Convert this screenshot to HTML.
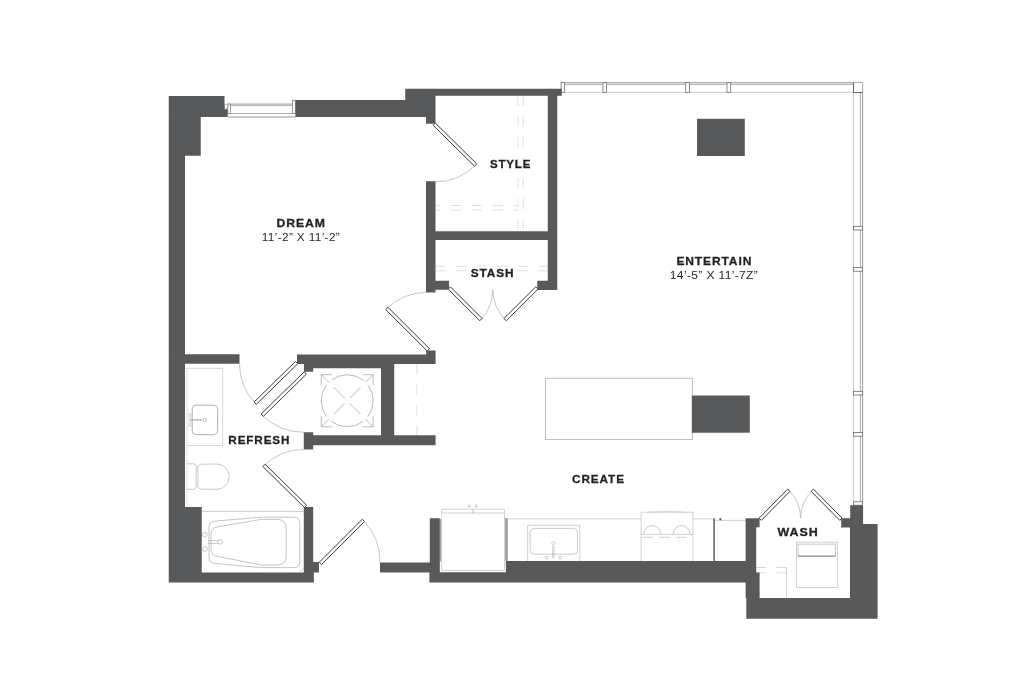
<!DOCTYPE html>
<html><head><meta charset="utf-8"><title>Floor plan</title>
<style>html,body{margin:0;padding:0;background:#fff}svg{display:block}</style></head>
<body><svg width="1024" height="681" viewBox="0 0 1024 681">
<defs><filter id="nf" x="0" y="0" width="1024" height="681" filterUnits="userSpaceOnUse"><feOffset dx="0" dy="0"/></filter></defs>
<rect width="1024" height="681" fill="#fff"/>
<line x1="518.00" y1="95.80" x2="518.00" y2="231.20" stroke="#dcdcdc" stroke-width="0.9" stroke-dasharray="10.3 10.3"/>
<line x1="523.20" y1="95.80" x2="523.20" y2="231.20" stroke="#dcdcdc" stroke-width="0.9" stroke-dasharray="10.3 10.3"/>
<line x1="429.50" y1="205.50" x2="518.00" y2="205.50" stroke="#dcdcdc" stroke-width="0.9" stroke-dasharray="10.5 10.5"/>
<line x1="429.50" y1="210.00" x2="518.00" y2="210.00" stroke="#dcdcdc" stroke-width="0.9" stroke-dasharray="10.5 10.5"/>
<line x1="435.50" y1="266.25" x2="547.75" y2="266.25" stroke="#dcdcdc" stroke-width="0.9" stroke-dasharray="10.3 10.3"/>
<line x1="435.50" y1="270.75" x2="547.75" y2="270.75" stroke="#dcdcdc" stroke-width="0.9" stroke-dasharray="10.3 10.3"/>
<line x1="416.80" y1="364.00" x2="416.80" y2="436.00" stroke="#dcdcdc" stroke-width="0.9" stroke-dasharray="10.3 10.3"/>
<line x1="227.70" y1="104.10" x2="295.30" y2="104.10" stroke="#7e7e7e" stroke-width="0.8" />
<line x1="227.70" y1="105.60" x2="295.30" y2="105.60" stroke="#a2a2a2" stroke-width="0.8" />
<line x1="227.70" y1="113.50" x2="295.30" y2="113.50" stroke="#9c9c9c" stroke-width="0.8" />
<line x1="227.70" y1="117.00" x2="295.30" y2="117.00" stroke="#8a8a8a" stroke-width="0.9" />
<rect x="227.90" y="104.10" width="2.60" height="9.40" fill="#fff" stroke="#707070" stroke-width="0.7" rx="0"/>
<rect x="292.50" y="100.20" width="2.80" height="13.30" fill="#fff" stroke="#707070" stroke-width="0.7" rx="0"/>
<rect x="224.70" y="104.20" width="2.80" height="4.80" fill="#fff" stroke="#8a8a8a" stroke-width="0.6" rx="0"/>
<line x1="561.00" y1="82.70" x2="862.60" y2="82.70" stroke="#7e7e7e" stroke-width="0.8" />
<line x1="561.00" y1="84.40" x2="853.50" y2="84.40" stroke="#969696" stroke-width="0.8" />
<line x1="561.00" y1="92.40" x2="853.50" y2="92.40" stroke="#bcbcbc" stroke-width="0.8" />
<rect x="561.10" y="82.70" width="3.50" height="9.70" fill="#fff" stroke="#666" stroke-width="0.75" rx="0"/>
<rect x="603.00" y="82.70" width="3.50" height="9.70" fill="#fff" stroke="#666" stroke-width="0.75" rx="0"/>
<rect x="685.80" y="82.70" width="3.60" height="9.70" fill="#fff" stroke="#666" stroke-width="0.75" rx="0"/>
<rect x="727.00" y="82.70" width="3.70" height="9.70" fill="#fff" stroke="#666" stroke-width="0.75" rx="0"/>
<line x1="853.50" y1="92.50" x2="853.50" y2="504.50" stroke="#bcbcbc" stroke-width="0.8" />
<line x1="860.40" y1="92.50" x2="860.40" y2="504.50" stroke="#969696" stroke-width="0.8" />
<line x1="862.60" y1="82.70" x2="862.60" y2="504.50" stroke="#7e7e7e" stroke-width="0.8" />
<rect x="853.50" y="226.30" width="9.10" height="3.70" fill="#fff" stroke="#5f5f5f" stroke-width="0.75" rx="0"/>
<rect x="853.50" y="267.50" width="9.10" height="3.70" fill="#fff" stroke="#5f5f5f" stroke-width="0.75" rx="0"/>
<rect x="853.50" y="391.30" width="9.10" height="3.70" fill="#fff" stroke="#5f5f5f" stroke-width="0.75" rx="0"/>
<rect x="853.50" y="432.50" width="9.10" height="3.70" fill="#fff" stroke="#5f5f5f" stroke-width="0.75" rx="0"/>
<rect x="853.50" y="501.80" width="9.10" height="3.40" fill="#fff" stroke="#5f5f5f" stroke-width="0.75" rx="0"/>
<rect x="853.50" y="82.70" width="9.10" height="9.80" fill="#fff" stroke="#9a9a9a" stroke-width="0.6" rx="0"/>
<path d="M853.5,82.7 V92.5 H862.6" stroke="#4a4a4c" stroke-width="0.8" fill="none" />
<line x1="187.00" y1="368.40" x2="187.00" y2="507.00" stroke="#c8c8c8" stroke-width="0.6" />
<path d="M185.5,368.4 H222.7 V445.5 H187" stroke="#bdbdbd" stroke-width="0.6" fill="none" />
<rect x="192.20" y="405.20" width="25.40" height="29.50" fill="none" stroke="#8c8c8c" stroke-width="0.7" rx="4"/>
<line x1="190.50" y1="419.90" x2="201.80" y2="419.90" stroke="#9a9a9a" stroke-width="1.0" />
<circle cx="204.90" cy="419.90" r="1.60" fill="none" stroke="#8c8c8c" stroke-width="0.6"/>
<rect x="189.20" y="413.50" width="1.60" height="13.00" fill="none" stroke="#b0b0b0" stroke-width="0.5" rx="0.8"/>
<path d="M187,463.8 H193.5 Q196.2,463.8 196.2,466.5 V486.7 Q196.2,489.4 193.5,489.4 H187" stroke="#a6a6a6" stroke-width="0.6" fill="none" />
<path d="M201.5,464.2 Q197.4,464.6 197.6,469 L198.3,476.8 L197.6,484.6 Q197.4,489 201.5,489.2 L216.5,489.4 A12.8,12.7 0 0 0 216.5,464 Z" stroke="#a6a6a6" stroke-width="0.6" fill="none" />
<line x1="201.80" y1="511.40" x2="303.80" y2="511.40" stroke="#b8b8b8" stroke-width="0.7" />
<path d="M214.5,521.2 L261,517.2 H293.5 Q299.8,517.2 299.8,523.5 V561.3 Q299.8,567.6 293.5,567.6 H261 L214.5,563.4 Q209,562.6 209,557 V527.5 Q209,522 214.5,521.2 Z" stroke="#a4a4a4" stroke-width="0.65" fill="none" />
<path d="M217,527 L261,519.4 H277 Q286.2,519.4 286.2,528.5 V556 Q286.2,565 277,565 H261 L217,556.3 Q211,555 211,549 V534 Q211,528.2 217,527 Z" stroke="#a4a4a4" stroke-width="0.65" fill="none" />
<circle cx="204.80" cy="534.80" r="2.40" fill="none" stroke="#a6a6a6" stroke-width="0.6"/>
<circle cx="204.80" cy="549.00" r="2.40" fill="none" stroke="#a6a6a6" stroke-width="0.6"/>
<path d="M207.6,540.6 H219.5 M207.6,543.4 H219.5" stroke="#a6a6a6" stroke-width="0.6" fill="none" />
<circle cx="220.30" cy="542.00" r="2.30" fill="#fff" stroke="#a6a6a6" stroke-width="0.6"/>
<path d="M299.2,572.5 L303.8,568.2" stroke="#b0b0b0" stroke-width="0.6" fill="none" />
<path d="M321.3,385 V374.7 H331.7 M362.7,374.7 H373.1 V385 M373.1,416.4 V426.8 H362.7 M331.7,426.8 H321.3 V416.4" stroke="#9c9c9c" stroke-width="0.65" fill="none" />
<circle cx="347.2" cy="400.75" r="26" fill="none" stroke="#9c9c9c" stroke-width="0.7" stroke-dasharray="34 6.84" stroke-dashoffset="17.4"/>
<path d="M321.3,374.7 L329,382.4 M334,387.4 L344.5,397.9 M350,403.6 L360.5,414.1 M365.5,419.1 L373.1,426.8 M373.1,374.7 L365.5,382.3 M360.5,387.4 L350,397.9 M344.5,403.6 L334,414.1 M329,419.1 L321.3,426.8" stroke="#9c9c9c" stroke-width="0.7" fill="none" />
<rect x="545.40" y="378.20" width="147.00" height="61.40" fill="#fff" stroke="#b0b0b0" stroke-width="0.8" rx="0"/>
<rect x="439.70" y="519.00" width="1.50" height="42.50" fill="#a0a0a0" />
<rect x="505.00" y="518.10" width="2.80" height="42.90" fill="#a3a3a3" />
<rect x="441.80" y="509.10" width="62.70" height="61.30" fill="#fff" stroke="#b4b4b4" stroke-width="0.6" rx="0"/>
<line x1="441.80" y1="513.00" x2="504.50" y2="513.00" stroke="#b4b4b4" stroke-width="0.6" />
<line x1="473.10" y1="509.10" x2="473.10" y2="513.00" stroke="#999" stroke-width="0.6" />
<circle cx="469.30" cy="506.00" r="1.10" fill="none" stroke="#999" stroke-width="0.5"/>
<circle cx="476.30" cy="506.00" r="1.10" fill="none" stroke="#999" stroke-width="0.5"/>
<line x1="507.60" y1="518.90" x2="641.10" y2="518.90" stroke="#c0c0c0" stroke-width="0.7" />
<line x1="693.00" y1="518.90" x2="713.20" y2="518.90" stroke="#c0c0c0" stroke-width="0.7" />
<path d="M527.7,561 V525.3 H579.8 V561" stroke="#b0b0b0" stroke-width="0.6" fill="none" />
<rect x="530.10" y="528.40" width="47.40" height="25.80" fill="none" stroke="#a8a8a8" stroke-width="0.6" rx="4"/>
<path d="M553.4,541.3 L555.2,543.3 L553.4,545.3 L551.6,543.3 Z" stroke="#999" stroke-width="0.5" fill="none" />
<path d="M552.7,546 V558.4 M554.1,546 V558.4" stroke="#999" stroke-width="0.5" fill="none" />
<circle cx="546.50" cy="557.70" r="1.50" fill="none" stroke="#999" stroke-width="0.5"/>
<circle cx="560.10" cy="557.70" r="1.50" fill="none" stroke="#999" stroke-width="0.5"/>
<path d="M641.1,561 V512.2 H693 V561" stroke="#b0b0b0" stroke-width="0.6" fill="none" />
<line x1="641.10" y1="534.40" x2="693.00" y2="534.40" stroke="#b0b0b0" stroke-width="0.6" />
<line x1="642.00" y1="537.30" x2="692.00" y2="537.30" stroke="#b0b0b0" stroke-width="0.6" stroke-dasharray="11 6"/>
<path d="M643.9,534.4 A8.5,8.8 0 0 1 660.9,534.4 M673,534.4 A8.5,8.8 0 0 1 690,534.4" stroke="#a6a6a6" stroke-width="0.6" fill="none" />
<path d="M648,512.2 Q667,510.5 686,512.2" stroke="#bbb" stroke-width="0.5" fill="none" />
<rect x="713.20" y="518.20" width="1.80" height="42.80" fill="#77787a" />
<line x1="715.00" y1="520.40" x2="745.50" y2="520.40" stroke="#b4b4b4" stroke-width="0.6" />
<circle cx="720.40" cy="519.20" r="1.00" fill="#555" stroke="#555" stroke-width="0.3"/>
<rect x="796.30" y="542.10" width="41.20" height="45.40" fill="#fff" stroke="#b4b4b4" stroke-width="0.6" rx="0"/>
<rect x="798.00" y="544.10" width="37.40" height="12.00" fill="none" stroke="#a0a0a0" stroke-width="0.6" rx="0"/>
<line x1="798.00" y1="556.10" x2="835.40" y2="556.10" stroke="#6a6a6a" stroke-width="0.8" />
<path d="M756.2,567.5 H765.6 M776.5,567.5 H786.5 V598" stroke="#c4c4c4" stroke-width="0.7" fill="none" />
<path d="M756.2,572.8 H765.6 M776.5,572.8 H786.5" stroke="#d0d0d0" stroke-width="0.7" fill="none" />
<path d="M475.60,165.00 A57.93,57.93 0 0 1 435.50,182.00" stroke="#9a9a9a" stroke-width="0.55" fill="none" />
<polygon points="433.18,125.34 474.48,166.14 476.72,163.86 435.42,123.06" fill="#fff" stroke="#3a3a3c" stroke-width="1.0"/>
<path d="M386.80,308.40 A58.03,58.03 0 0 1 426.00,292.40" stroke="#9a9a9a" stroke-width="0.55" fill="none" />
<polygon points="429.43,348.67 387.93,307.27 385.67,309.53 427.17,350.93" fill="#fff" stroke="#3a3a3c" stroke-width="1.0"/>
<path d="M480.90,319.60 A44.11,44.11 0 0 0 492.80,289.80" stroke="#9a9a9a" stroke-width="0.55" fill="none" />
<polygon points="448.17,289.13 479.77,320.73 482.03,318.47 450.43,286.87" fill="#fff" stroke="#3a3a3c" stroke-width="1.0"/>
<path d="M505.10,319.60 A44.48,44.48 0 0 1 492.80,289.80" stroke="#9a9a9a" stroke-width="0.55" fill="none" />
<polygon points="535.77,286.87 503.97,318.47 506.23,320.73 538.03,289.13" fill="#fff" stroke="#3a3a3c" stroke-width="1.0"/>
<path d="M255.20,403.20 A57.55,57.55 0 0 1 239.50,363.80" stroke="#9a9a9a" stroke-width="0.55" fill="none" />
<polygon points="295.48,361.46 254.08,402.06 256.32,404.34 297.72,363.74" fill="#fff" stroke="#3a3a3c" stroke-width="1.0"/>
<path d="M262.20,415.20 A59.82,59.82 0 0 0 304.00,432.30" stroke="#9a9a9a" stroke-width="0.55" fill="none" />
<polygon points="304.18,371.86 261.08,414.06 263.32,416.34 306.42,374.14" fill="#fff" stroke="#3a3a3c" stroke-width="1.0"/>
<path d="M264.00,465.40 A57.67,57.67 0 0 1 303.80,449.50" stroke="#9a9a9a" stroke-width="0.55" fill="none" />
<polygon points="306.72,505.26 265.12,464.26 262.88,466.54 304.48,507.54" fill="#fff" stroke="#3a3a3c" stroke-width="1.0"/>
<path d="M363.40,520.40 A60.21,60.21 0 0 1 380.00,562.50" stroke="#9a9a9a" stroke-width="0.55" fill="none" />
<polygon points="321.53,564.53 364.53,521.53 362.27,519.27 319.27,562.27" fill="#fff" stroke="#3a3a3c" stroke-width="1.0"/>
<path d="M788.80,490.20 A40.49,40.49 0 0 1 800.60,518.00" stroke="#9a9a9a" stroke-width="0.55" fill="none" />
<polygon points="761.44,520.32 789.94,491.32 787.66,489.08 759.16,518.08" fill="#fff" stroke="#3a3a3c" stroke-width="1.0"/>
<path d="M812.30,490.20 A40.52,40.52 0 0 0 800.60,518.00" stroke="#9a9a9a" stroke-width="0.55" fill="none" />
<polygon points="842.04,518.08 813.44,489.08 811.16,491.32 839.76,520.32" fill="#fff" stroke="#3a3a3c" stroke-width="1.0"/>
<path fill="#58595b" d="M168.75,96.00H185.00V582.50H168.75ZM168.75,96.00H224.50V117.00H168.75ZM224.50,109.25H227.70V117.00H224.50ZM168.75,96.00H200.75V155.75H168.75ZM168.75,507.00H201.75V582.50H168.75ZM168.75,572.50H313.90V582.50H168.75ZM303.80,507.00H313.20V572.50H303.80ZM313.00,562.00H319.00V572.50H313.00ZM295.40,100.00H426.00V117.00H295.40ZM405.20,88.75H561.80V95.80H405.20ZM405.20,88.75H435.50V117.00H405.20ZM426.00,117.00H435.50V123.75H426.00ZM547.75,88.75H557.25V290.00H547.75ZM426.00,181.25H435.50V292.50H426.00ZM426.00,231.25H557.25V240.00H426.00ZM435.50,280.70H449.00V289.80H435.50ZM537.25,280.70H547.75V290.00H537.25ZM185.00,354.30H239.50V363.75H185.00ZM297.00,354.50H435.60V364.00H297.00ZM426.20,350.40H435.60V364.00H426.20ZM304.00,354.50H394.20V368.20H304.00ZM304.00,364.00H313.20V371.80H304.00ZM381.00,354.50H394.20V445.20H381.00ZM303.80,435.30H435.60V445.20H303.80ZM303.80,432.20H313.20V449.50H303.80ZM380.00,562.40H430.00V572.40H380.00ZM429.80,518.20H439.80V582.50H429.80ZM429.40,572.30H506.50V582.50H429.40ZM505.90,561.00H746.00V582.50H505.90ZM745.60,518.20H759.60V527.30H745.60ZM745.60,518.20H756.20V598.00H745.60ZM745.60,572.50H759.60V598.00H745.60ZM746.30,598.00H877.60V618.80H746.30ZM850.00,524.00H877.60V618.80H850.00ZM850.20,505.20H863.10V524.10H850.20ZM841.20,518.30H850.30V527.60H841.20ZM697.00,118.80H744.80V156.00H697.00ZM691.80,395.60H749.80V432.70H691.80Z"/>
<g font-family="'Liberation Sans', sans-serif" fill="#231f20" filter="url(#nf)">
<text x="276.60" y="227.00" textLength="49.30" lengthAdjust="spacingAndGlyphs" letter-spacing="0.85" font-weight="700" font-size="11.4" stroke="#231f20" stroke-width="0.28">DREAM</text>
<text x="261.80" y="240.50" textLength="78.30" lengthAdjust="spacingAndGlyphs" letter-spacing="0.35" font-weight="400" font-size="11.4">11’-2” X 11’-2”</text>
<text x="489.90" y="168.20" textLength="41.40" lengthAdjust="spacingAndGlyphs" letter-spacing="0.85" font-weight="700" font-size="11.4" stroke="#231f20" stroke-width="0.28">STYLE</text>
<text x="470.80" y="277.30" textLength="43.60" lengthAdjust="spacingAndGlyphs" letter-spacing="0.85" font-weight="700" font-size="11.4" stroke="#231f20" stroke-width="0.28">STASH</text>
<text x="676.40" y="265.10" textLength="75.80" lengthAdjust="spacingAndGlyphs" letter-spacing="0.85" font-weight="700" font-size="11.4" stroke="#231f20" stroke-width="0.28">ENTERTAIN</text>
<text x="669.80" y="278.60" textLength="88.40" lengthAdjust="spacingAndGlyphs" letter-spacing="0.35" font-weight="400" font-size="11.4">14’-5” X 11’-7Z”</text>
<text x="228.30" y="444.30" textLength="62.10" lengthAdjust="spacingAndGlyphs" letter-spacing="0.85" font-weight="700" font-size="11.4" stroke="#231f20" stroke-width="0.28">REFRESH</text>
<text x="572.10" y="483.30" textLength="52.80" lengthAdjust="spacingAndGlyphs" letter-spacing="0.85" font-weight="700" font-size="11.4" stroke="#231f20" stroke-width="0.28">CREATE</text>
<text x="777.50" y="536.30" textLength="41.10" lengthAdjust="spacingAndGlyphs" letter-spacing="0.85" font-weight="700" font-size="11.4" stroke="#231f20" stroke-width="0.28">WASH</text>
</g>
</svg></body></html>
